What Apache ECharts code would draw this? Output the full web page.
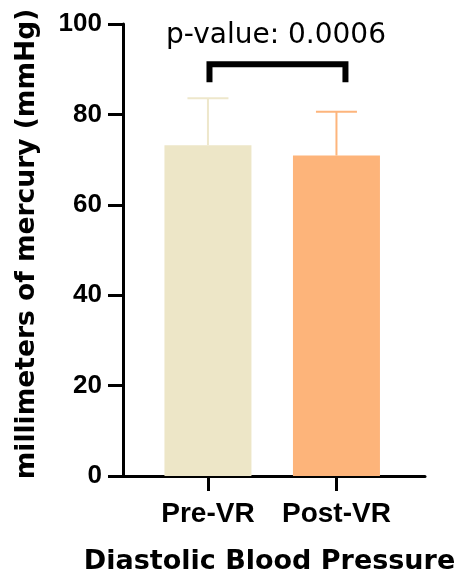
<!DOCTYPE html>
<html>
<head>
<meta charset="utf-8">
<script src="https://cdn.jsdelivr.net/npm/echarts@6/dist/echarts.min.js"></script>
<style>
html,body{margin:0;padding:0;background:#fff;}
#chart{width:458px;height:572px;}
</style>
</head>
<body>
<div id="chart"></div>
<script>
const categories = ['Pre-VR', 'Post-VR'];
const meanValues = [73.2, 70.9];
const upperValues = [83.6, 80.6];
const barColors = ['#EDE6C7', '#FDB47A'];
const whiskerColors = ['#EEE7CB', '#FDB57C'];
const yTicks = [0, 20, 40, 60, 80, 100];
const bracketX = [0.012, 1.07];
const bracketY = [87.8, 91.1];
const pValueText = 'p-value: 0.0006';

const NAME_FONT = 'DejaVu Sans';
const TICK_FONT = 'Liberation Sans';
const chart = echarts.init(document.getElementById('chart'), null, {renderer: 'canvas'});

const barData = meanValues.map((v, i) => ({
  value: [i, v],
  itemStyle: {color: barColors[i]}
}));
const errData = meanValues.map((v, i) => [i, v, upperValues[i]]);
const bracketData = [
  [bracketX[0], bracketY[0]],
  [bracketX[0], bracketY[1]],
  [bracketX[1], bracketY[1]],
  [bracketX[1], bracketY[0]]
];

chart.setOption({
  animation: false,
  backgroundColor: '#ffffff',
  grid: {left: 123, right: 33, top: 24, bottom: 96, containLabel: false, outerBoundsMode: 'none'},
  xAxis: {
    type: 'value',
    min: -0.661,
    max: 1.689,
    name: 'Diastolic Blood Pressure',
    nameLocation: 'middle',
    nameGap: 72,
    nameTextStyle: {fontFamily: NAME_FONT, fontWeight: 'bold', fontSize: 27, color: '#000', padding: [0, 9, 0, 0]},
    axisLine: {show: true, onZero: false, lineStyle: {color: '#000', width: 3}},
    axisTick: {show: true, length: 15, lineStyle: {color: '#000', width: 3}, customValues: [0, 1]},
    axisLabel: {
      show: true, margin: 24, customValues: [0, 1],
      fontFamily: TICK_FONT, fontWeight: 'bold', fontSize: 28, color: '#000',
      formatter: v => categories[Math.round(v)] || ''
    },
    splitLine: {show: false}
  },
  yAxis: {
    type: 'value',
    min: yTicks[0],
    max: yTicks[yTicks.length - 1],
    interval: 20,
    name: 'millimeters of mercury (mmHg)',
    nameLocation: 'middle',
    nameGap: 82,
    nameTextStyle: {fontFamily: NAME_FONT, fontWeight: 'bold', fontSize: 26.5, color: '#000', padding: [0, 0, 0, 12]},
    axisLine: {show: true, onZero: false, lineStyle: {color: '#000', width: 3}},
    axisTick: {show: true, length: 15, lineStyle: {color: '#000', width: 3}},
    axisLabel: {margin: 21, fontFamily: TICK_FONT, fontWeight: 'bold', fontSize: 26, color: '#000'},
    splitLine: {show: false}
  },
  graphic: [{
    type: 'text',
    x: 276,
    y: 36,
    style: {text: pValueText, font: '28px "DejaVu Sans"', fill: '#000', textAlign: 'center', textVerticalAlign: 'middle'}
  }],
  series: [
    {
      type: 'custom',
      z: 1,
      renderItem: function (params, api) {
        const i = api.value(0);
        const top = api.coord([i, api.value(2)]);
        const base = api.coord([i, api.value(1)]);
        const col = whiskerColors[i];
        const half = 20.5;
        return {
          type: 'group',
          children: [
            {type: 'line', shape: {x1: top[0], y1: top[1], x2: base[0], y2: base[1]}, style: {stroke: col, lineWidth: 2}},
            {type: 'line', shape: {x1: top[0] - half, y1: top[1], x2: top[0] + half, y2: top[1]}, style: {stroke: col, lineWidth: 2}}
          ]
        };
      },
      data: errData
    },
    {
      type: 'bar',
      z: 2,
      barWidth: 87,
      data: barData
    },
    {
      type: 'line',
      z: 3,
      symbol: 'none',
      lineStyle: {color: '#000', width: 6, cap: 'square', join: 'miter'},
      data: bracketData
    }
  ]
});
</script>
</body>
</html>
